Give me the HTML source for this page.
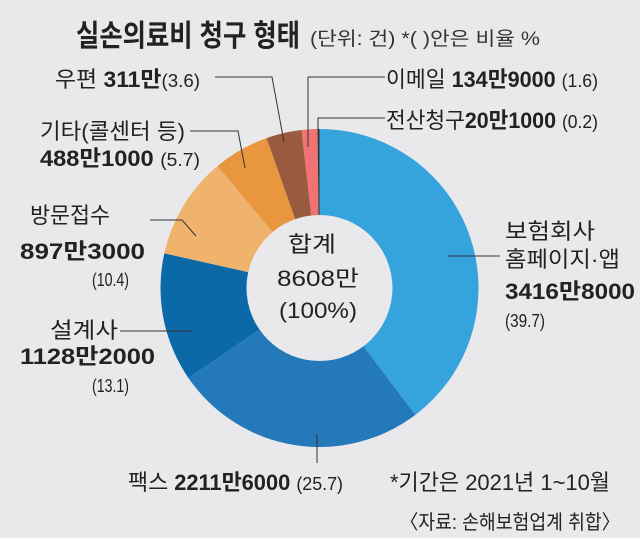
<!DOCTYPE html>
<html><head><meta charset="utf-8"><style>
body{margin:0;background:#e9e9eb;}
svg{display:block;font-family:"Liberation Sans","Noto Sans CJK KR",sans-serif;}
</style></head><body>
<svg width="640" height="538" viewBox="0 0 640 538">
<rect width="640" height="538" fill="#e9e9eb"/>
<text x="76" y="46" font-size="30" font-weight="bold" fill="#222" textLength="224" lengthAdjust="spacingAndGlyphs">실손의료비 청구 형태</text>
<text x="310" y="45" font-size="19" fill="#333" textLength="230" lengthAdjust="spacingAndGlyphs">(단위: 건)  *( )안은 비율 %</text>
<g id="slices"></g>
<circle cx="319.5" cy="288" r="73" fill="#e9e9eb"/>
<g font-size="22" fill="#222" text-anchor="middle">
<text x="312" y="252" textLength="48" lengthAdjust="spacingAndGlyphs">합계</text>
<text x="318" y="286" textLength="82" lengthAdjust="spacingAndGlyphs">8608만</text>
<text x="318" y="318" textLength="78" lengthAdjust="spacingAndGlyphs">(100%)</text></g>
<g stroke="#333" stroke-width="1" fill="none">
<polyline points="215,77 272,77 284,142"/>
<polyline points="308,147 308,77 385,77"/>
<polyline points="318,130 318,118 385,118"/>
<polyline points="190,131 238,131 245,168"/>
<polyline points="150,220 182,220 196,236"/>
<polyline points="120,331 192,331"/>
<polyline points="448,256 500,256"/>
<polyline points="317,434 317,463"/>
</g>
<g font-size="22" fill="#222">
<text x="55" y="87" textLength="145" lengthAdjust="spacingAndGlyphs">우편 <tspan font-weight="bold">311만</tspan><tspan font-size="18">(3.6)</tspan></text>
<text x="40" y="139" textLength="145" lengthAdjust="spacingAndGlyphs">기타(콜센터 등)</text>
<text x="40" y="166" textLength="160" lengthAdjust="spacingAndGlyphs"><tspan font-weight="bold">488만1000</tspan> <tspan font-size="18">(5.7)</tspan></text>
<text x="30" y="223" textLength="80" lengthAdjust="spacingAndGlyphs">방문접수</text>
<text x="20" y="259" font-weight="bold" textLength="125" lengthAdjust="spacingAndGlyphs">897만3000</text>
<text x="92" y="286" font-size="18" textLength="37" lengthAdjust="spacingAndGlyphs">(10.4)</text>
<text x="50" y="338" textLength="68" lengthAdjust="spacingAndGlyphs">설계사</text>
<text x="20" y="364" font-weight="bold" textLength="135" lengthAdjust="spacingAndGlyphs">1128만2000</text>
<text x="92" y="392" font-size="18" textLength="37" lengthAdjust="spacingAndGlyphs">(13.1)</text>
<text x="386" y="87" textLength="212" lengthAdjust="spacingAndGlyphs">이메일 <tspan font-weight="bold">134만9000</tspan> <tspan font-size="18">(1.6)</tspan></text>
<text x="386" y="128" textLength="212" lengthAdjust="spacingAndGlyphs">전산청구<tspan font-weight="bold">20만1000</tspan> <tspan font-size="18">(0.2)</tspan></text>
<text x="505" y="239" textLength="90" lengthAdjust="spacingAndGlyphs">보험회사</text>
<text x="505" y="267" textLength="115" lengthAdjust="spacingAndGlyphs">홈페이지·앱</text>
<text x="505" y="299" font-weight="bold" textLength="130" lengthAdjust="spacingAndGlyphs">3416만8000</text>
<text x="505" y="327" font-size="18" textLength="40" lengthAdjust="spacingAndGlyphs">(39.7)</text>
<text x="128" y="490" textLength="215" lengthAdjust="spacingAndGlyphs">팩스 <tspan font-weight="bold">2211만6000</tspan> <tspan font-size="18">(25.7)</tspan></text>
<text x="390" y="490" textLength="220" lengthAdjust="spacingAndGlyphs">*기간은 2021년 1~10월</text>
<text x="400" y="529" font-size="20" textLength="220" lengthAdjust="spacingAndGlyphs">〈자료: 손해보험업계 취합〉</text>
</g>
<script>
const categories=["보험회사 홈페이지·앱","팩스","설계사","방문접수","기타(콜센터 등)","우편","이메일","전산청구"];
const shares=[39.7,25.7,13.1,10.4,5.7,3.6,1.6,0.2];
const colors=["#35a3dc","#2379b9","#0a69a6","#f0b36e","#e9973f","#9a5a40","#f07272","#333333"];
const cx=319.5,cy=288,R=159;
const total=shares.reduce((a,b)=>a+b,0);
const g=document.getElementById('slices');
function pt(f){const a=f*2*Math.PI;return [cx+R*Math.sin(a),cy-R*Math.cos(a)];}
let acc=0;
shares.forEach((v,i)=>{
  const f0=acc/total,f1=(acc+v)/total;acc+=v;
  const [x0,y0]=pt(f0),[x1,y1]=pt(f1);
  const large=(f1-f0)>0.5?1:0;
  const p=document.createElementNS('http://www.w3.org/2000/svg','path');
  p.setAttribute('d',`M${cx},${cy}L${x0},${y0}A${R},${R} 0 ${large} 1 ${x1},${y1}Z`);
  p.setAttribute('fill',colors[i]);
  
  
  g.appendChild(p);
});
</script>
</svg>
</body></html>
